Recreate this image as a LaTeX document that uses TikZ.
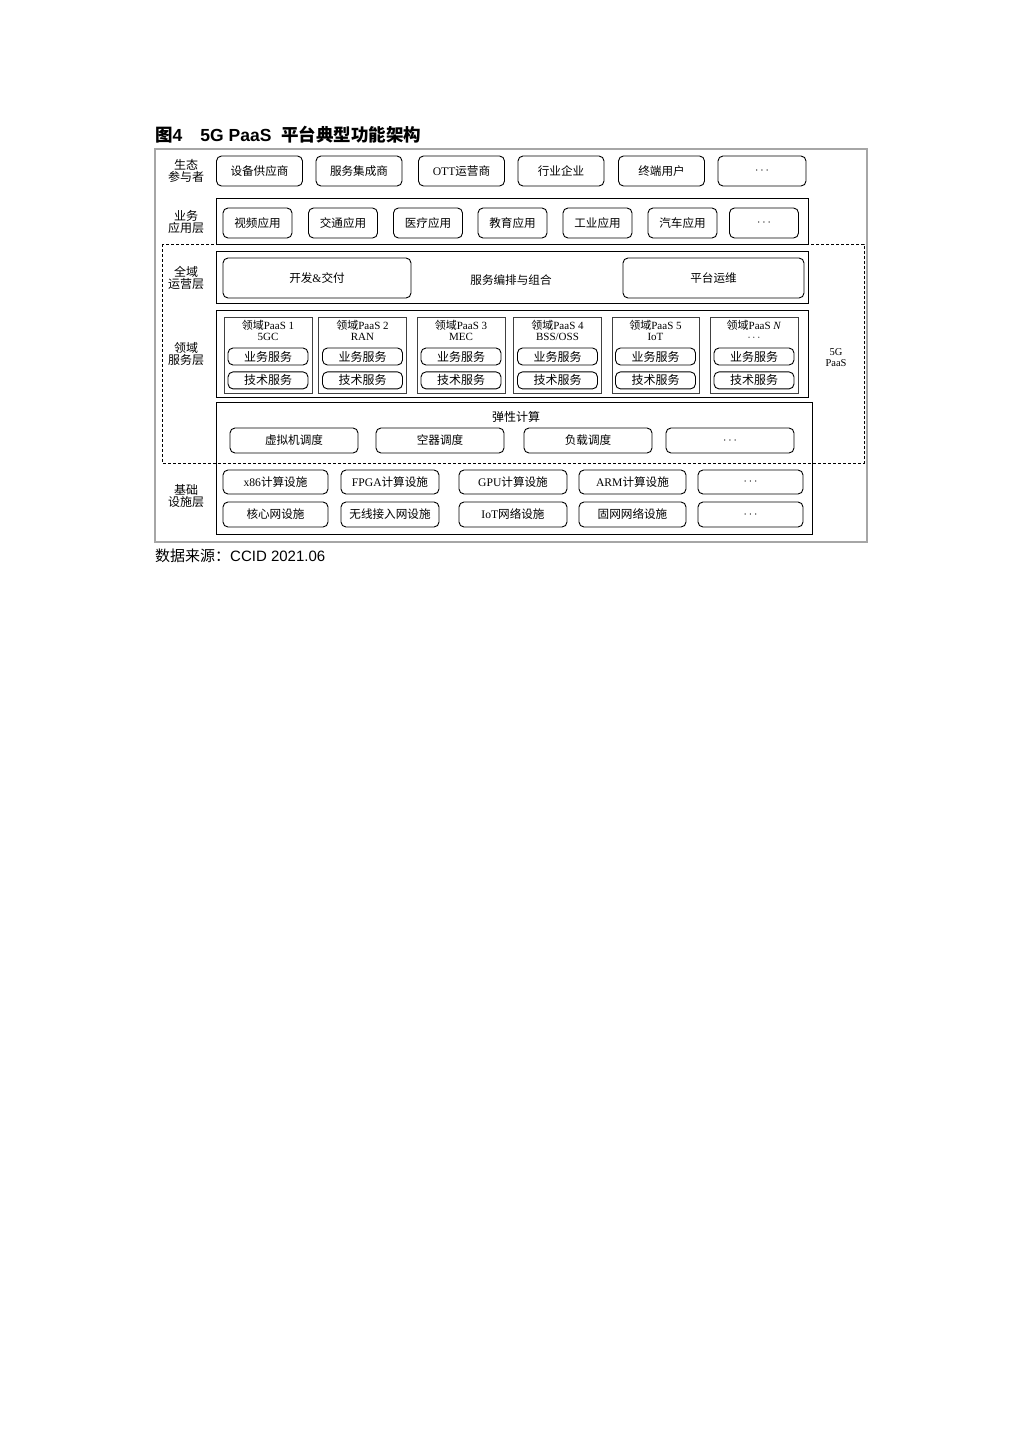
\documentclass[tikz,border=0pt]{standalone}
\usepackage{fontspec}
\setmainfont{Liberation Serif}
\newfontfamily\cjk{Noto Sans CJK SC}
\newfontfamily\arial{Liberation Sans}
\usetikzlibrary{positioning}

\begin{document}
\begin{tikzpicture}[x=1pt, y=-1pt,
    box/.style={rectangle, draw=black, line width=0.9pt, rounded corners=5pt, inner sep=0pt, font=\cjk\fontsize{11.6}{11.6}\selectfont},
    ecobox/.style={box, minimum width=86pt, minimum height=30pt},
    appbox/.style={box, minimum width=69pt, minimum height=30pt},
    opbox/.style={box, minimum height=40pt},
    compbox/.style={box, minimum width=128pt, minimum height=25pt},
    infrabox/.style={box, minimum height=24pt},
    lyrlabel/.style={align=center, inner sep=0pt, font=\cjk\fontsize{12}{10.5}\selectfont},
    lyrframe/.style={draw=black, line width=0.95pt},
    paas/.style={rectangle, draw=black!75, line width=1pt, minimum width=88pt, minimum height=76pt, inner sep=0pt},
    paashead/.style={align=center, inner sep=0pt, font=\cjk\fontsize{11}{11}\selectfont},
    svc/.style={box, minimum width=80pt, minimum height=17pt, font=\cjk\fontsize{12}{12}\selectfont}
]
    \fill[white] (0,0) rectangle (1019,1440);
    \useasboundingbox (0,0) rectangle (1019,1440);

    % title and source
    \node[anchor=west, inner sep=0pt, font=\fontsize{17.5}{17.5}\selectfont\bfseries] (title) at (155,135)
        {{\cjk 图}{\arial 4}\hspace{18pt}{\arial 5G PaaS}\hspace{10pt}{\cjk 平台典型功能架构}};
    \node[anchor=west, inner sep=0pt, font=\fontsize{15}{15}\selectfont] (source) at (155,556)
        {{\cjk 数据来源：}{\arial CCID 2021.06}};

    % frames
    \draw[gray!70, line width=1.2pt] (155,149) rectangle (867,542);
    \draw[line width=0.8pt, dash pattern=on 3pt off 2pt] (162,244) rectangle (864,463);
    \draw[lyrframe] (216,198) rectangle (808,244);
    \draw[lyrframe] (216,251) rectangle (808,303);
    \draw[lyrframe] (216,310) rectangle (808,397);
    \draw[lyrframe] (216,402) rectangle (812,534);

    % layer labels
    \node[lyrlabel] (ecolbl) at (186,171) {生态\\参与者};
    \node[lyrlabel] (applbl) at (186,222) {业务\\应用层};
    \node[lyrlabel] (oplbl) at (186,278) {全域\\运营层};
    \node[lyrlabel] (domlbl) at (186,354) {领域\\服务层};
    \node[lyrlabel] (infralbl) at (186,496) {基础\\设施层};
    \node[paashead, font=\rmfamily\fontsize{10.5}{11}\selectfont] (paaslbl) at (836,357.5) {5G\\PaaS};

    % ecosystem
    \node[ecobox] (eco1) at (259.5,171) {设备供应商};
    \node[ecobox] (eco2) at (359,171) {服务集成商};
    \node[ecobox] (eco3) at (461.5,171) {\textrm{OTT}运营商};
    \node[ecobox] (eco4) at (561,171) {行业企业};
    \node[ecobox] (eco5) at (661.5,171) {终端用户};
    \node[ecobox, minimum width=88pt] (eco6) at (762,171) {$\cdots$};

    % applications
    \node[appbox] (app1) at (257.5,223) {视频应用};
    \node[appbox] (app2) at (343,223) {交通应用};
    \node[appbox] (app3) at (428,223) {医疗应用};
    \node[appbox] (app4) at (512.5,223) {教育应用};
    \node[appbox] (app5) at (597.5,223) {工业应用};
    \node[appbox] (app6) at (682.5,223) {汽车应用};
    \node[appbox] (app7) at (764,223) {$\cdots$};

    % operation
    \node[opbox, minimum width=188pt] (op1) at (317,278) {开发\textrm{\&}交付};
    \node[lyrlabel, font=\cjk\fontsize{11.6}{11.6}\selectfont] (op2) at (511,280) {服务编排与组合};
    \node[opbox, minimum width=181pt] (op3) at (713.5,278) {平台运维};

    % domain PaaS
    \node[paas] (dom1) at (268,355) {};
    \node[paas] (dom2) at (362.5,355) {};
    \node[paas] (dom3) at (461,355) {};
    \node[paas] (dom4) at (557.5,355) {};
    \node[paas, minimum width=87pt] (dom5) at (655.5,355) {};
    \node[paas] (dom6) at (754,355) {};
    \node[paashead] (head1) at (268,330.5) {领域\textrm{PaaS 1}\\\textrm{5GC}};
    \node[paashead] (head2) at (362.5,330.5) {领域\textrm{PaaS 2}\\\textrm{RAN}};
    \node[paashead] (head3) at (461,330.5) {领域\textrm{PaaS 3}\\\textrm{MEC}};
    \node[paashead] (head4) at (557.5,330.5) {领域\textrm{PaaS 4}\\\textrm{BSS/OSS}};
    \node[paashead] (head5) at (655.5,330.5) {领域\textrm{PaaS 5}\\\textrm{IoT}};
    \node[paashead] (head6) at (754,330.5) {领域\textrm{PaaS \textit{N}}\\$\cdots$};
    \node[svc] (biz1) at (268,356.5) {业务服务};
    \node[svc] (biz2) at (362.5,356.5) {业务服务};
    \node[svc] (biz3) at (461,356.5) {业务服务};
    \node[svc] (biz4) at (557.5,356.5) {业务服务};
    \node[svc] (biz5) at (655.5,356.5) {业务服务};
    \node[svc] (biz6) at (754,356.5) {业务服务};
    \node[svc, below=6pt of biz1] (tech1) {技术服务};
    \node[svc, below=6pt of biz2] (tech2) {技术服务};
    \node[svc, below=6pt of biz3] (tech3) {技术服务};
    \node[svc, below=6pt of biz4] (tech4) {技术服务};
    \node[svc, below=6pt of biz5] (tech5) {技术服务};
    \node[svc, below=6pt of biz6] (tech6) {技术服务};

    % elastic computing
    \node[lyrlabel, font=\cjk\fontsize{12}{12}\selectfont] (elastic) at (516,417) {弹性计算};
    \node[compbox] (comp1) at (294,440.5) {虚拟机调度};
    \node[compbox] (comp2) at (440,440.5) {空器调度};
    \node[compbox] (comp3) at (588,440.5) {负载调度};
    \node[compbox] (comp4) at (730,440.5) {$\cdots$};

    % infrastructure
    \node[infrabox, minimum width=105pt] (cpu1) at (275.5,482) {\textrm{x86}计算设施};
    \node[infrabox, minimum width=98pt] (cpu2) at (390,482) {\textrm{FPGA}计算设施};
    \node[infrabox, minimum width=108pt] (cpu3) at (513,482) {\textrm{GPU}计算设施};
    \node[infrabox, minimum width=107pt] (cpu4) at (632.5,482) {\textrm{ARM}计算设施};
    \node[infrabox, minimum width=105pt] (cpu5) at (750.5,482) {$\cdots$};
    \node[infrabox, minimum width=105pt, minimum height=25pt] (net1) at (275.5,514.5) {核心网设施};
    \node[infrabox, minimum width=98pt, minimum height=25pt] (net2) at (390,514.5) {无线接入网设施};
    \node[infrabox, minimum width=108pt, minimum height=25pt] (net3) at (513,514.5) {\textrm{IoT}网络设施};
    \node[infrabox, minimum width=107pt, minimum height=25pt] (net4) at (632.5,514.5) {固网网络设施};
    \node[infrabox, minimum width=105pt, minimum height=25pt] (net5) at (750.5,514.5) {$\cdots$};
\end{tikzpicture}
\end{document}
